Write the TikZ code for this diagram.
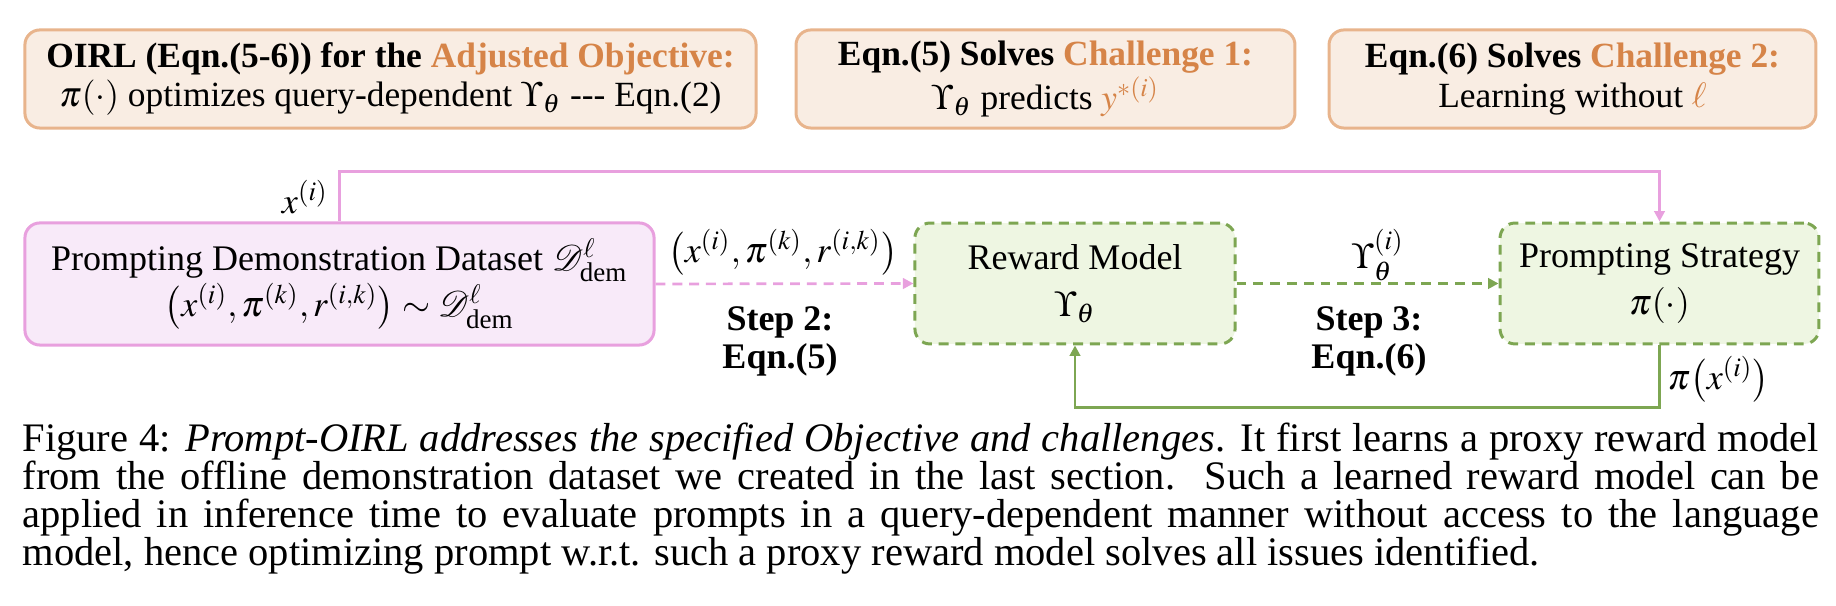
\documentclass[tikz,border=0pt]{standalone}
\usepackage{amsmath}
\usepackage{mathptmx}
\usepackage[no-math]{fontspec}
\setmainfont{Liberation Serif}
\usetikzlibrary{arrows.meta}

\definecolor{objfill}{RGB}{249,237,227}
\definecolor{objdraw}{RGB}{232,180,140}
\definecolor{objtext}{RGB}{214,132,72}
\definecolor{pinkfill}{RGB}{248,234,249}
\definecolor{pinkdraw}{RGB}{232,160,222}
\definecolor{greenfill}{RGB}{238,246,226}
\definecolor{greendraw}{RGB}{125,166,82}

\begin{document}
\begin{tikzpicture}[x=0.3333pt,y=-0.3333pt,>={Triangle[length=3.5pt,width=3.5pt]},
		objbox/.style={draw=objdraw,fill=objfill,line width=1pt,rounded corners=5pt,align=center,inner sep=0pt,font=\fontsize{11.8}{13.3}\selectfont},
		pinkbox/.style={draw=pinkdraw,fill=pinkfill,line width=1pt,rounded corners=5pt,align=center,inner sep=0pt,font=\fontsize{12}{15.6}\selectfont},
		greenbox/.style={draw=greendraw,fill=greenfill,line width=1pt,dash pattern=on 3.3pt off 2.3pt,rounded corners=5pt,align=center,inner sep=0pt,font=\fontsize{12}{15.6}\selectfont},
		pinkline/.style={draw=pinkdraw,line width=0.9pt},
		greenline/.style={draw=greendraw,line width=0.9pt},
		lbl/.style={inner sep=1pt,font=\fontsize{12}{12.6}\selectfont},
		steplbl/.style={inner sep=0pt,align=center,font=\fontsize{12}{12.7}\selectfont\bfseries},
		capline/.style={anchor=base west,inner sep=0pt,font=\fontsize{13.5}{13}\selectfont}]
			\useasboundingbox (0,0) rectangle (1836,606);

			% top row: objective and challenges
			\node [objbox,minimum width=243.7pt,minimum height=32.7pt] (adj) at (390.5,79) {\textbf{OIRL (Eqn.(5-6)) for the \textcolor{objtext}{Adjusted Objective:}}\\ $\pi(\cdot)$ optimizes query-dependent $\Upsilon_\theta$ -{}-{}- Eqn.(2)};
			\node [objbox,minimum width=166.3pt,minimum height=32.7pt] (chone) at (1045.5,79) {\textbf{Eqn.(5) Solves \textcolor{objtext}{Challenge 1:}}\\ $\Upsilon_\theta$ predicts $\textcolor{objtext}{y^{*(i)}}$};
			\node [objbox,minimum width=162.3pt,minimum height=32.7pt] (chtwo) at (1572.5,79) {\textbf{Eqn.(6) Solves \textcolor{objtext}{Challenge 2:}}\\ Learning without \textcolor{objtext}{$\ell$}};

			% middle row
			\node [pinkbox,minimum width=209.7pt,minimum height=40.7pt] (data) at (339.5,284) {Prompting Demonstration Dataset $\mathcal{D}^{\ell}_{\text{dem}}$\\ $\bigl(x^{(i)},\pi^{(k)},r^{(i,k)}\bigr)\sim\mathcal{D}^{\ell}_{\text{dem}}$};
			\node [greenbox,minimum width=106.7pt,minimum height=40.3pt] (rm) at (1075,283.5) {Reward Model\\ $\Upsilon_\theta$};
			\node [greenbox,minimum width=106.3pt,minimum height=40.3pt] (ps) at (1659.5,283.5) {Prompting Strategy\\ $\pi(\cdot)$};

			\draw [pinkline,->] (data.north) -- ++(0,-50) -| (ps.north);
			\node [lbl] (xlab) at (305,197) {$x^{(i)}$};

			\draw [pinkline,dash pattern=on 3.3pt off 2.3pt,->] (data.east) -- (rm.west);
			\node [lbl] (tuplab) at (783,252) {$\bigl(x^{(i)},\pi^{(k)},r^{(i,k)}\bigr)$};
			\node [steplbl] (steptwo) at (780,341) {Step 2:\\ Eqn.(5)};

			\draw [greenline,dash pattern=on 3.3pt off 2.3pt,->] (rm.east) -- (ps.west);
			\node [lbl] (uplab) at (1378,255) {$\Upsilon_\theta^{(i)}$};
			\node [steplbl] (stepthree) at (1369,341) {Step 3:\\ Eqn.(6)};

			\draw [greenline,->] (ps.south) -- ++(0,62) -| (rm.south);
			\node [lbl,anchor=west] (pilab) at (1664,379) {$\pi\bigl(x^{(i)}\bigr)$};

			% caption, one node per line
			\node [capline] (capa) at (22,452) {\makebox[598.7pt][s]{Figure 4: \textit{Prompt-OIRL addresses the specified Objective and challenges}. It first learns a proxy reward model}};
			\node [capline] (capb) at (22,490) {\makebox[598.7pt][s]{from the offline demonstration dataset we created in the last section.\ \ Such a learned reward model can be}};
			\node [capline] (capc) at (22,528) {\makebox[598.7pt][s]{applied in inference time to evaluate prompts in a query-dependent manner without access to the language}};
			\node [capline] (capd) at (22,566) {model, hence optimizing prompt w.r.t. such a proxy reward model solves all issues identified.};
		\end{tikzpicture}
\end{document}
